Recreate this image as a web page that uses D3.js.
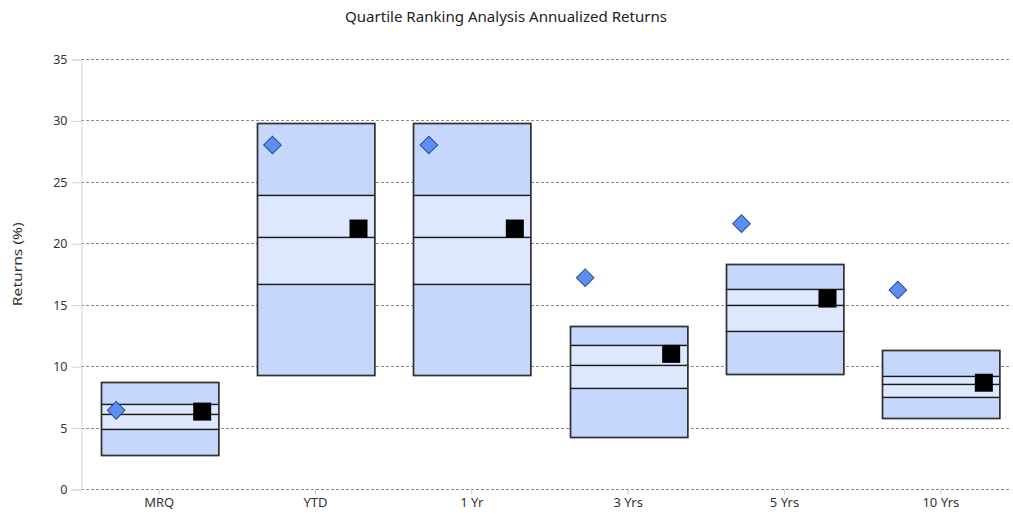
<!DOCTYPE html>
<html>
<head>
<meta charset="utf-8">
<script src="https://cdn.jsdelivr.net/npm/d3@7.9.0/dist/d3.min.js"></script>
<style>
  body { margin: 0; background: #fff; }
  svg { display: block; font-family: 'Noto Sans', 'DejaVu Sans', sans-serif; }
</style>
</head>
<body>
<svg id="chart" width="1013" height="515"></svg>
<script>
// quartile breakpoints per period (percentile of peer group returns)
const categories = ['MRQ', 'YTD', '1 Yr', '3 Yrs', '5 Yrs', '10 Yrs'];
const p5  = [8.7, 29.8, 29.8, 13.3, 18.3, 11.3];
const p25 = [6.9, 23.9, 23.9, 11.7, 16.3, 9.2];
const p50 = [6.1, 20.5, 20.5, 10.1, 15.0, 8.55];
const p75 = [4.9, 16.7, 16.7, 8.2, 12.9, 7.45];
const p95 = [2.8, 9.3, 9.3, 4.2, 9.4, 5.8];
const fundReturns = [6.4, 28.0, 28.0, 17.2, 21.6, 16.2];
const benchmarkReturns = [6.3, 21.2, 21.2, 11.0, 15.5, 8.65];
const yTicks = [0, 5, 10, 15, 20, 25, 30, 35];

const svg = d3.select('#chart');
const margin = { top: 59, left: 81, bottom: 26 };
const height = 515;

let x = d3.scaleBand().domain(categories).range([margin.left, 1019]).paddingInner(0).paddingOuter(0);
let y = d3.scaleLinear().domain([0, 35]).range([height - margin.bottom, margin.top]);

// title
svg.append('text')
  .attr('x', 506).attr('y', 22)
  .attr('text-anchor', 'middle')
  .attr('font-size', 13.5).attr('fill', '#222')
  .attr('textLength', 322).attr('lengthAdjust', 'spacingAndGlyphs')
  .text('Quartile Ranking Analysis Annualized Returns');

// grid lines
svg.append('g')
  .selectAll('line')
  .data(yTicks)
  .join('line')
  .attr('x1', margin.left).attr('x2', 1010)
  .attr('y1', (d) => Math.round(y(d)) + 0.5).attr('y2', (d) => Math.round(y(d)) + 0.5)
  .attr('stroke', '#8a8a8a')
  .attr('stroke-dasharray', '3,2');

// y axis
let yAxis = svg.append('g')
  .attr('transform', `translate(${margin.left + 0.5},0.5)`)
  .call(d3.axisLeft(y).tickValues(yTicks).tickSize(10).tickPadding(4));
yAxis.select('.domain').attr('stroke', '#d4d4d4');
yAxis.selectAll('.tick line').attr('stroke', '#d4d4d4');
yAxis.selectAll('.tick text').attr('font-size', 12.5).attr('fill', '#333').attr('font-family', 'Noto Sans, sans-serif');

svg.append('text')
  .attr('transform', `translate(22,${y(18.3)}) rotate(-90)`)
  .attr('text-anchor', 'middle')
  .attr('font-size', 13).attr('fill', '#333')
  .attr('textLength', 84).attr('lengthAdjust', 'spacingAndGlyphs')
  .text('Returns (%)');

// x axis
let xAxis = svg.append('g')
  .attr('transform', `translate(0,${Math.round(y(0)) + 0.5})`)
  .call(d3.axisBottom(x).tickSize(5).tickPadding(3));
xAxis.select('.domain').remove();
xAxis.selectAll('.tick line').attr('stroke', '#c8c8c8');
xAxis.selectAll('.tick text').attr('font-size', 13).attr('fill', '#333').attr('font-family', 'Noto Sans, sans-serif');

// boxes
const boxW = x.bandwidth() * 0.75;
const outerFill = '#c5d7fc';
const innerFill = '#dde7fd';

const boxes = svg.append('g')
  .selectAll('g')
  .data(categories.map((c, i) => ({ c, i })))
  .join('g')
  .attr('transform', (d) => `translate(${Math.round(x(d.c) + (x.bandwidth() - boxW) / 2) + 0.5},0)`);

const bands = [
  [p5, p25, outerFill],
  [p25, p50, innerFill],
  [p50, p75, innerFill],
  [p75, p95, outerFill],
];
bands.forEach(([hi, lo, fill]) => {
  boxes.append('rect')
    .attr('x', 0).attr('width', boxW)
    .attr('y', (d) => Math.round(y(hi[d.i])) + 0.5)
    .attr('height', (d) => Math.round(y(lo[d.i])) - Math.round(y(hi[d.i])))
    .attr('fill', fill)
    .attr('stroke', '#1a1a1a')
    .attr('stroke-width', 1.3);
});

// outer outline on top
boxes.append('rect')
  .attr('x', 0).attr('width', boxW)
  .attr('y', (d) => Math.round(y(p5[d.i])) + 0.5)
  .attr('height', (d) => Math.round(y(p95[d.i])) - Math.round(y(p5[d.i])))
  .attr('fill', 'none')
  .attr('stroke', '#333')
  .attr('stroke-width', 1.5);

// fund marker (diamond)
svg.append('g')
  .selectAll('path')
  .data(categories)
  .join('path')
  .attr('d', d3.symbol(d3.symbolSquare, 155))
  .attr('transform', (d, i) => `translate(${x(d) + x.bandwidth() / 2 - 43},${y(fundReturns[i])}) rotate(45)`)
  .attr('fill', '#5b8ff2')
  .attr('stroke', '#2d4f8f')
  .attr('stroke-width', 1);

// benchmark marker (square)
svg.append('g')
  .selectAll('rect')
  .data(categories)
  .join('rect')
  .attr('x', (d) => x(d) + x.bandwidth() / 2 + 43 - 9)
  .attr('y', (d, i) => y(benchmarkReturns[i]) - 9)
  .attr('width', 18).attr('height', 18)
  .attr('fill', '#000');
</script>
</body>
</html>
